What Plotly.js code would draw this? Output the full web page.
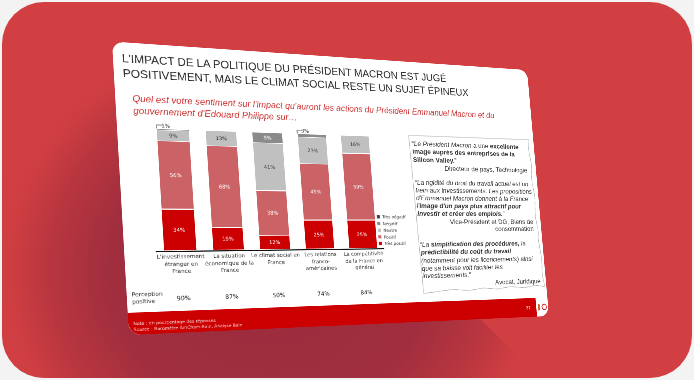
<!DOCTYPE html>
<html><head><meta charset="utf-8">
<script src="https://cdn.plot.ly/plotly-3.0.1.min.js"></script>
<style>
html,body{margin:0;padding:0;width:694px;height:380px;overflow:hidden;background:#f3f3f3}
#card{position:absolute;left:2px;top:2px;width:690px;height:376px;border-radius:42px;overflow:hidden;background:#d23f42}
#shade{position:absolute;left:-2px;top:-2px;width:694px;height:380px;
 clip-path:polygon(160px 0,542px 380px,0 380px,0 0);
 background:radial-gradient(ellipse 290px 260px at 270px 270px,#9a2c3d 0%,#a02e3e 55%,rgba(174,50,62,.75) 75%,rgba(200,60,64,.35) 90%,rgba(208,62,66,0) 100%)}
#slide{position:absolute;left:0;top:0;width:800px;height:500px;transform-origin:0 0;border-radius:20px;overflow:hidden;background:#fff;filter:blur(.55px)}
</style></head><body>
<div id="card"><div id="shade"></div></div>
<div id="slide"><div id="plot" style="width:800px;height:500px"></div></div>
<script>
const categories=["L'investissement<br>étranger en<br>France","La situation<br>économique de la<br>France","Le climat social en<br>France","Les relations<br>franco-<br>américaines","La compétitivité<br>de la France en<br>général"];
const tresPositif=[34,19,12,25,25];
const positif=[56,68,38,49,59];
const neutre=[9,13,41,23,16];
const negatif=[1,0,9,3,0];
const tresNegatif=[0,0,0,0,0];
const perception=["90%","87%","50%","74%","84%"];
const calloutIndex=[0,3];
const calloutText=["1%","3%"];
const minShown=5;

const W=800,H=500,L=51,R=337,T=127,B=140;
const px=x=>(x-L)/(W-L-R), py=y=>1-(y-T)/(H-T-B);
const idx=[0,1,2,3,4];
function tr(name,vals,color,tc){
  return {type:'bar',name:name,x:idx,y:vals,marker:{color:color,line:{color:'#fff',width:1.5}},
    text:vals.map(v=>v>=minShown?v+'%':''),textposition:'inside',insidetextanchor:'middle',
    textfont:{family:'DejaVu Sans',size:9,color:tc},constraintext:'none',hoverinfo:'skip',cliponaxis:false};
}
const data=[tr('Très positif',tresPositif,'#cc0000','#fff'),tr('Positif',positif,'#cb6366','#fff'),
  tr('Neutre',neutre,'#c0c0c0','#333'),tr('Négatif',negatif,'#8a8a8a','#fff'),tr('Très négatif',tresNegatif,'#404040','#fff')];

function note(x,y,text,o){return Object.assign({xref:'paper',yref:'paper',x:px(x),y:py(y),text:text,showarrow:false,xanchor:'left',yanchor:'top',align:'left',font:{family:'DejaVu Sans',size:10,color:'#333'}},o||{});}
const ann=[];
ann.push(note(26,86,"<i>Quel est votre sentiment sur l'impact qu'auront les actions du Président Emmanuel Macron et du<br>gouvernement d'Edouard Philippe sur…</i>",{font:{family:'Liberation Sans',size:16.2,color:'#cc3333'}}));
ann.push(note(6,425,"Perception<br>positive",{font:{family:'DejaVu Sans',size:9.5,color:'#333'}}));
perception.forEach((p,i)=>ann.push({xref:'x',yref:'paper',x:i,y:py(441),text:p,showarrow:false,yanchor:'middle',font:{family:'DejaVu Sans',size:10.5,color:'#222'}}));
calloutIndex.forEach((c,k)=>ann.push({xref:'x',yref:'y',x:c-.14,y:102.5,text:calloutText[k],showarrow:false,font:{family:'DejaVu Sans',size:9,color:'#333'}}));
// encart citations : une annotation par ligne
const qf={family:'Liberation Sans',size:13.2,color:'#333'};
const qLeft=(y,t)=>ann.push(note(533,y,t,{yanchor:'middle',font:qf}));
const qRight=(x,y,t)=>ann.push(note(x,y,t,{xanchor:'right',yanchor:'middle',align:'right',font:qf}));
[[159,"“<i>Le Président Macron</i> a une <b>excellente</b>"],[174.6,"<b>image auprès des entreprises de la</b>"],[190,"<b>Silicon Valley.</b>”"],
 [234,"“<i>La rigidité du droit du travail actuel est un</i>"],[249,"<i>frein aux investissements. Les propositions</i>"],[264,"<i>d'Emmanuel Macron donnent à la France</i>"],[279,"<i>l'</i><b><i>image d'un pays plus attractif pour</i></b>"],[294,"<b><i>investir et créer des emplois.</i></b>”"],
 [353,"“<i>La </i><b><i>simplification des procédures,</i></b><i> la</i>"],[368.5,"<b><i>prédictibilité du coût du travail</i></b>"],[384,"<i>(notamment pour les licenciements) ainsi</i>"],[399,"<i>que sa baisse voit faciliter les</i>"],[413,"<i>investissements.</i>”"]
].forEach(l=>qLeft(l[0],l[1]));
qRight(782,206,"Directeur de pays, Technologie");
qRight(785,310,"Vice-Président et DG, Biens de");
qRight(785,324,"consommation");
qRight(790,429,"Avocat, Juridique");
// bandeau
ann.push(note(6,475,"Note : en pourcentage des réponses<br>Source : Baromètre AmCham-Bain, Analyse Bain",{font:{family:'DejaVu Sans',size:7.5,color:'#f6cccc'}}));
ann.push(note(762,476,"27",{xanchor:'right',font:{family:'DejaVu Sans',size:8,color:'#fff'}}));

const boxPath=(function(){
 const tornR=[[790,144],[787,165],[791,195],[788,225],[792,260],[789,300],[793,330],[791,345],[795,385],[793,420],[797,441]];
 const tornB=[[775,438],[750,442],[720,439],[690,443],[660,440],[630,444],[595,441],[565,444],[535,447]];
 let s='M '+px(530)+' '+py(144);
 tornR.concat(tornB).forEach(p=>s+=' L '+px(p[0])+' '+py(p[1]));
 return s+' Z';
})();
function rect(x0,y0,x1,y1,c){return {type:'rect',xref:'paper',yref:'paper',x0:px(x0),x1:px(x1),y0:py(y0),y1:py(y1),fillcolor:c,line:{width:0},layer:'below'};}
const shapes=[rect(0,463,773,500,'#cc0000'),
 {type:'path',xref:'paper',yref:'paper',path:boxPath,line:{color:'#aaa',width:1},fillcolor:'#fff',layer:'below'},
 {type:'circle',xref:'paper',yref:'paper',x0:px(786),x1:px(796),y0:py(476),y1:py(487),line:{color:'#cc0000',width:1.5},fillcolor:'#fff'},
 {type:'rect',xref:'paper',yref:'paper',x0:px(777),x1:px(781),y0:py(475),y1:py(488),fillcolor:'#cc6633',line:{width:0}}];
calloutIndex.forEach(c=>shapes.push({type:'path',xref:'x',yref:'y',path:`M ${c-.33} 100 L ${c-.33} 103 L ${c-.22} 103`,line:{color:'#333',width:1}}));

const layout={width:W,height:H,margin:{l:L,r:R,t:T,b:B,pad:0},paper_bgcolor:'#fff',plot_bgcolor:'rgba(0,0,0,0)',
 barmode:'stack',bargap:.33,
 title:{text:"L'IMPACT DE LA POLITIQUE DU PRÉSIDENT MACRON EST JUGÉ<br>POSITIVEMENT, MAIS LE CLIMAT SOCIAL RESTE UN SUJET ÉPINEUX",xref:'container',x:.018,xanchor:'left',y:.93,yref:'container',yanchor:'top',font:{family:'Liberation Sans',size:19.7,color:'#2a2a2a'}},
 xaxis:{tickmode:'array',tickvals:idx,ticktext:categories,range:[-.5,4.5],showgrid:false,zeroline:false,showline:true,linecolor:'#111',linewidth:2,ticks:'',tickangle:0,tickfont:{family:'DejaVu Sans',size:9.5,color:'#333'}},
 yaxis:{range:[0,110],visible:false,fixedrange:true},
 showlegend:true,
 legend:{x:px(452),xanchor:'left',y:py(293),yanchor:'top',traceorder:'reversed',bgcolor:'rgba(0,0,0,0)',font:{family:'DejaVu Sans',size:8,color:'#333'},tracegroupgap:0},
 annotations:ann,shapes:shapes};
Plotly.newPlot('plot',data,layout,{displayModeBar:false,staticPlot:true}).then(gd=>{
  // légende resserrée comme sur la diapositive
  gd.querySelectorAll('.legend .traces').forEach((g,i)=>{
    g.setAttribute('transform',`translate(0,${8+i*12.5})`);
    const pts=g.querySelector('.legendpoints'); if(pts) pts.setAttribute('transform','translate(-7,0) scale(.55)');
    const t=g.querySelector('.legendtext'); if(t) t.setAttribute('x','12');
  });
});

// mise en perspective de la diapositive sur ses quatre coins
function solve(A,b){const n=b.length;for(let i=0;i<n;i++){let m=i;for(let r=i+1;r<n;r++)if(Math.abs(A[r][i])>Math.abs(A[m][i]))m=r;[A[i],A[m]]=[A[m],A[i]];[b[i],b[m]]=[b[m],b[i]];for(let r=i+1;r<n;r++){const f=A[r][i]/A[i][i];for(let c=i;c<n;c++)A[r][c]-=f*A[i][c];b[r]-=f*b[i];}}const x=Array(n);for(let i=n-1;i>=0;i--){let s=b[i];for(let c=i+1;c<n;c++)s-=A[i][c]*x[c];x[i]=s/A[i][i];}return x;}
const src=[[0,0],[W,0],[W,H],[0,H]],dst=[[112,41.5],[527,70],[549,316],[129,335]];
const A=[],b=[];src.forEach((s,i)=>{const[x,y]=s,[u,v]=dst[i];A.push([x,y,1,0,0,0,-x*u,-y*u]);b.push(u);A.push([0,0,0,x,y,1,-x*v,-y*v]);b.push(v);});
const h=solve(A,b);
document.getElementById('slide').style.transform=`matrix3d(${h[0]},${h[3]},0,${h[6]},${h[1]},${h[4]},0,${h[7]},0,0,1,0,${h[2]},${h[5]},0,1)`;
</script></body></html>
